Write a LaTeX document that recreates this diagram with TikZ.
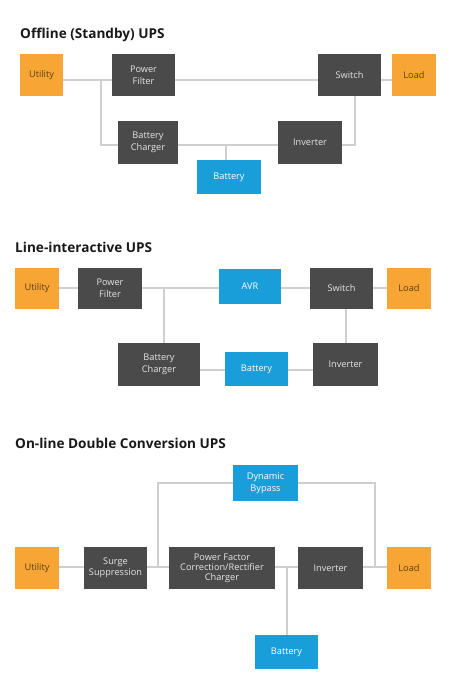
\documentclass[tikz,border=0pt]{standalone}
\usepackage{fontspec}
\setmainfont{Open Sans}
\usepackage{xcolor}
\usetikzlibrary{positioning,calc}
\definecolor{upsorange}{HTML}{F7A535}
\definecolor{upsgray}{HTML}{4A4A4A}
\definecolor{upsblue}{HTML}{1A9ED9}
\definecolor{upswire}{HTML}{CFCFCF}
\definecolor{upsbrown}{HTML}{5E4118}
\tikzset{
    darkbox/.style={rectangle, fill=upsgray, text=white!90!black, minimum width=63pt, minimum height=42pt, inner sep=0pt, align=center, font=\fontsize{9.2}{12}\selectfont},
    orangebox/.style={rectangle, fill=upsorange, text=upsbrown, minimum width=44pt, minimum height=42pt, inner sep=0pt, align=center, font=\fontsize{9.2}{12}\selectfont},
    bluebox/.style={rectangle, fill=upsblue, text=white, minimum width=63pt, minimum height=34pt, inner sep=0pt, align=center, font=\fontsize{9.2}{12}\selectfont},
    wire/.style={draw=upswire, line width=1.5pt},
    heading/.style={anchor=base west, inner sep=0pt, font=\bfseries\fontsize{13.6}{16}\selectfont, text=black!90},
}
\begin{document}
\begin{tikzpicture}[x=1pt, y=-1pt]
    \useasboundingbox (0,0) rectangle (457,680);

    % Offline (Standby) UPS
    \node[heading] (t1) at (20,38) {Offline (Standby) UPS};
    \node[orangebox, minimum width=43pt] (u1) at (41.5,75) {Utility};
    \node[darkbox] (pf1) at (143.5,75) {Power\\Filter};
    \node[darkbox] (sw1) at (349.5,75) {Switch};
    \node[orangebox] (ld1) at (414,75) {Load};
    \node[darkbox, minimum width=60pt, minimum height=43pt] (bc1) at (148,142.5) {Battery\\Charger};
    \node[darkbox, minimum width=64pt, minimum height=43pt] (inv1) at (310,142.5) {Inverter};
    \node[bluebox, minimum width=64pt] (bat1) at (229,177) {Battery};
    \coordinate (m1) at (0,80);
    \coordinate (l1) at (0,145);
    \coordinate (j1) at (101,80);
    \draw[wire] (u1.east |- m1) -- (pf1.west |- m1);
    \draw[wire] (pf1.east |- m1) -- (sw1.west |- m1);
    \draw[wire] (sw1.east |- m1) -- (ld1.west |- m1);
    \draw[wire] (j1) |- (bc1.west |- l1);
    \draw[wire] (bc1.east |- l1) -- (inv1.west |- l1);
    \draw[wire] (bat1.north -| 226,0) -- (226,145);
    \draw[wire] (inv1.east |- l1) -| (sw1.south -| 355,0);

    % Line-interactive UPS
    \node[heading] (t2) at (15,252) {Line-interactive UPS};
    \node[orangebox, minimum height=41pt] (u2) at (37,288.5) {Utility};
    \node[darkbox, minimum width=64pt, minimum height=41pt] (pf2) at (110,288.5) {Power\\Filter};
    \node[bluebox, minimum width=62pt, minimum height=35pt] (avr) at (250,286.5) {AVR};
    \node[darkbox, minimum height=41pt] (sw2) at (341.5,288.5) {Switch};
    \node[orangebox, minimum height=41pt] (ld2) at (409,288.5) {Load};
    \node[darkbox, minimum width=82pt, minimum height=43pt] (bc2) at (159,364.5) {Battery\\Charger};
    \node[bluebox] (bat2) at (256.5,369) {Battery};
    \node[darkbox, minimum width=65pt, minimum height=43pt] (inv2) at (345.5,364.5) {Inverter};
    \coordinate (m2) at (0,288);
    \coordinate (l2) at (0,370);
    \draw[wire] (u2.east |- m2) -- (pf2.west |- m2);
    \draw[wire] (pf2.east |- m2) -- (avr.west |- m2);
    \draw[wire] (avr.east |- m2) -- (sw2.west |- m2);
    \draw[wire] (sw2.east |- m2) -- (ld2.west |- m2);
    \draw[wire] (164,288) -- (bc2.north -| 164,0);
    \draw[wire] (bc2.east |- l2) -- (bat2.west |- l2);
    \draw[wire] (bat2.east |- l2) -- (inv2.west |- l2);
    \draw[wire] (sw2.south -| 346,0) -- (inv2.north -| 346,0);

    % On-line Double Conversion UPS
    \node[heading] (t3) at (15,448) {On-line Double Conversion UPS};
    \node[bluebox, minimum width=65pt, minimum height=36pt] (byp) at (265.5,483) {Dynamic\\Bypass};
    \node[orangebox] (u3) at (37,568) {Utility};
    \node[darkbox, font=\fontsize{9.2}{10.8}\selectfont] (ss) at (115.5,568) {Surge\\Suppression};
    \node[darkbox, minimum width=106pt, font=\fontsize{9.2}{10}\selectfont] (pfc) at (222,568) {Power Factor\\Correction/Rectifier\\Charger};
    \node[darkbox, minimum width=65pt] (inv3) at (330.5,568) {Inverter};
    \node[orangebox] (ld3) at (409,568) {Load};
    \node[bluebox] (bat3) at (286.5,652) {Battery};
    \coordinate (m3) at (0,567);
    \draw[wire] (u3.east |- m3) -- (ss.west |- m3);
    \draw[wire] (ss.east |- m3) -- (pfc.west |- m3);
    \draw[wire] (pfc.east |- m3) -- (inv3.west |- m3);
    \draw[wire] (inv3.east |- m3) -- (ld3.west |- m3);
    \draw[wire] (158,567) |- (byp.west);
    \draw[wire] (byp.east) -| (375,567);
    \draw[wire] (bat3.north -| 287,0) -- (287,567);
\end{tikzpicture}
\end{document}
